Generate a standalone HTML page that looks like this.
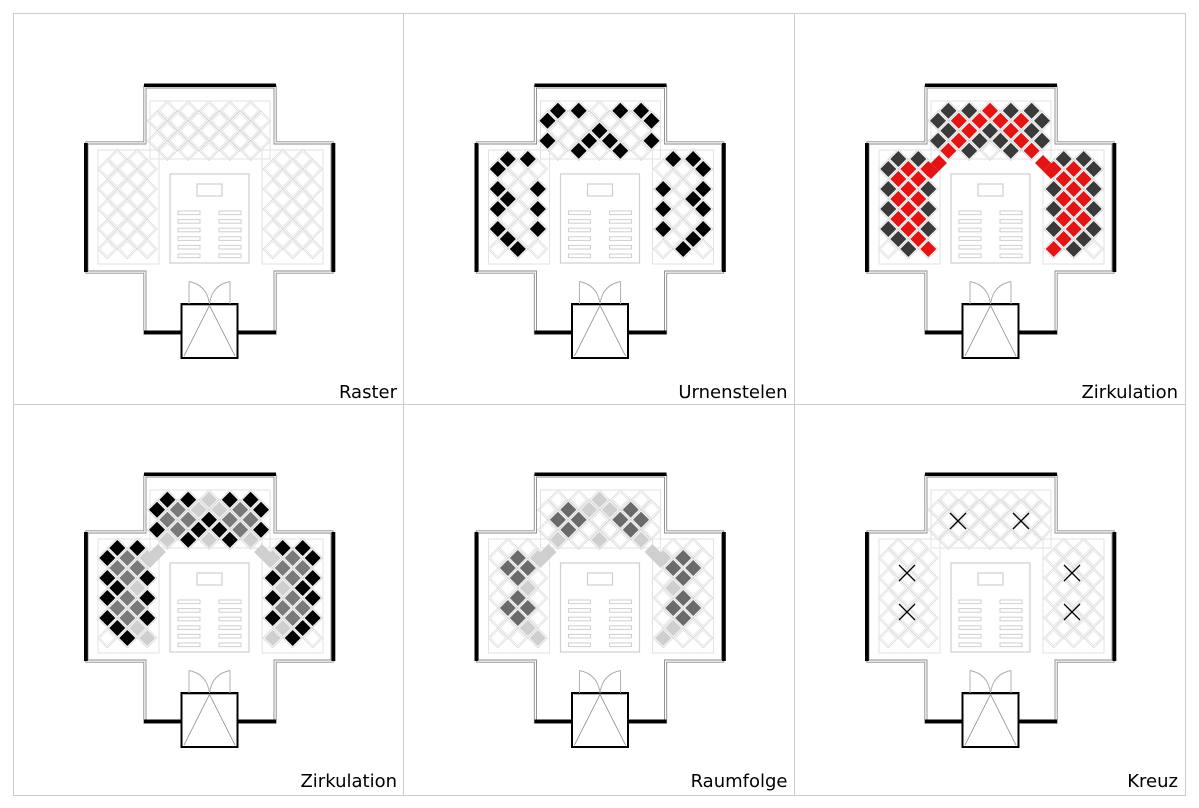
<!DOCTYPE html>
<html><head><meta charset="utf-8"><style>
html,body{margin:0;padding:0;background:#fff;}
svg{display:block;}
text{font-family:"DejaVu Sans","Liberation Sans",sans-serif;font-size:18px;fill:#000;}
</style></head><body>
<svg id="s" width="1199" height="808" viewBox="0 0 1199 808" xmlns="http://www.w3.org/2000/svg"></svg>
<script>
var S=document.getElementById('s');var out='';
out+='<rect x="0" y="0" width="1199" height="808" fill="#fff"/>';
var C={k:'#000',d:'#3a3a3a',r:'#e31414',g:'#7a7a7a',l:'#cfcfcf',m:'#6a6a6a'};
var P=[
 null,
 {top:[".k.k...k.k.","k.........k",".....k.....","k...k.k...k","...k...k..."],
  side:[".k.k.","k....",".....","k...k",".k...","k...k",".....","k...k",".k...","..k.."]},
 {top:[".d.d.r.d.d.","d.r.r.r.r.d",".d.r.d.r.d.","d.r.d.d.r.d",".r.d...d.r."],
  side:[".d.d.","d.r.r",".r.r.","d.r.d",".r.r.","d.r.d",".r.r.","d.r.d",".d.r.","..d.r"]},
 {top:[".k.k.l.k.k.","k.g.l.l.g.k",".g.g.k.g.g.","k.g.k.k.g.k",".l.k.l.k.l."],
  side:[".k.k.","k.g.l",".g.g.","k.g.k",".k.l.","k.g.k",".g.g.","k.g.k",".k.l.","..k.l"]},
 {top:[".....l.....","..m.l.l.m..",".m.m...m.m.","..m.....m..",".l...l...l."],
  side:[".....","..m.l",".m.m.","..m..","...l.","..m..",".m.m.","..m..","...l.","....l"]},
 null];
var labels=["Raster","Urnenstelen","Zirkulation","Zirkulation","Raumfolge","Kreuz"];
function dia(x,y,h,fill,stroke){return '<path d="M'+x.toFixed(1)+' '+(y-h).toFixed(1)+'L'+(x+h).toFixed(1)+' '+y.toFixed(1)+'L'+x.toFixed(1)+' '+(y+h).toFixed(1)+'L'+(x-h).toFixed(1)+' '+y.toFixed(1)+'Z" fill="'+fill+'"'+(stroke?' stroke="'+stroke+'" stroke-width="0.8"':'')+'/>';}
function pts(){var a=[];
 for(var j=0;j<5;j++)for(var i=0;i<11;i++)if((i+j)%2==1)a.push({x:157+10.4*i,y:110.7+10*j,t:'top',a:j,b:i});
 for(var r=0;r<10;r++)for(var c=0;c<5;c++)if((c+r)%2==1){a.push({x:107.3+10*c,y:159+10*r,t:'side',a:r,b:c});a.push({x:420-107.3-10*c,y:159+10*r,t:'side',a:r,b:c});}
 return a;}
var L=pts();
for(var p=0;p<6;p++){
 var dx=[0,390.5,781][p%3],dy=p<3?0:389;
 var g='<g transform="translate('+dx+','+dy+')">';
 L.forEach(function(q){g+=dia(q.x,q.y,9.8,'none','#d8d8d8');g+=dia(q.x,q.y,7.6,'none','#e2e2e2');});
 g+='<rect x="150" y="101" width="120" height="58" fill="none" stroke="#e2e2e2" stroke-width="1"/>';
 g+='<rect x="98" y="150" width="61" height="114" fill="none" stroke="#e2e2e2" stroke-width="1"/>';
 g+='<rect x="262" y="150" width="61" height="114" fill="none" stroke="#e2e2e2" stroke-width="1"/>';
 if(P[p]){L.forEach(function(q){var ch=P[p][q.t][q.a].charAt(q.b);if(ch!='.')g+=dia(q.x,q.y,8,C[ch]);});
  if(p==2){[[158,163],[150,171],[262,163],[270,171]].forEach(function(v){g+=dia(v[0],v[1],8,C.r);});}
  if(p==3||p==4){[[158,163],[150,171],[262,163],[270,171]].forEach(function(v){g+=dia(v[0],v[1],8,C.l);});}
 }
 if(p==5){[[177,132],[240,132],[126,184],[291,184],[126,223],[291,223]].forEach(function(v){g+='<path d="M'+(v[0]-8)+' '+(v[1]-8)+'L'+(v[0]+8)+' '+(v[1]+8)+'M'+(v[0]+8)+' '+(v[1]-8)+'L'+(v[0]-8)+' '+(v[1]+8)+'" stroke="#000" stroke-width="1.3"/>';});}
 var poly=function(o){return 'M'+(181)+' '+(332+o)+'L'+(146-o)+' '+(332+o)+'L'+(146-o)+' '+(271+o)+'L'+(88-o)+' '+(271+o)+'L'+(88-o)+' '+(144-o)+'L'+(146-o)+' '+(144-o)+'L'+(146-o)+' '+(88-o)+'L'+(274+o)+' '+(88-o)+'L'+(274+o)+' '+(144-o)+'L'+(331+o)+' '+(144-o)+'L'+(331+o)+' '+(271+o)+'L'+(274+o)+' '+(271+o)+'L'+(274+o)+' '+(332+o)+'L238 '+(332+o);};
 g+='<path d="'+poly(0)+'" fill="none" stroke="#8a8a8a" stroke-width="0.9"/>';
 g+='<path d="'+poly(2.2)+'" fill="none" stroke="#8a8a8a" stroke-width="0.9"/>';
 g+='<rect x="144" y="83.5" width="132" height="3.5" fill="#000"/>';
 g+='<rect x="84" y="143" width="3.8" height="129" fill="#000"/>';
 g+='<rect x="331.5" y="143" width="3.8" height="129" fill="#000"/>';
 g+='<rect x="144" y="330.5" width="38" height="3.8" fill="#000"/>';
 g+='<rect x="237" y="330.5" width="39" height="3.8" fill="#000"/>';
 g+='<rect x="181.5" y="304" width="56" height="54" fill="#fff" stroke="#000" stroke-width="2"/>';
 g+='<path d="M184 356L209.5 305.5L235 356" fill="none" stroke="#888" stroke-width="0.8"/>';
 g+='<line x1="183" y1="305.5" x2="236" y2="305.5" stroke="#999" stroke-width="0.8"/>';
 g+='<path d="M189 304L189 281.5M230 304L230 281.5M189 281.5Q207 285 209.5 304M230 281.5Q212 285 209.5 304" fill="none" stroke="#aaa" stroke-width="0.9"/>';
 g+='<rect x="170" y="174" width="79" height="89" fill="#fff" stroke="#cfcfcf" stroke-width="1.2"/>';
 g+='<rect x="197" y="184" width="25" height="12" fill="none" stroke="#cfcfcf" stroke-width="1.2"/>';
 for(var k=0;k<6;k++){var yy=211+k*8.6;g+='<rect x="178" y="'+yy+'" width="22" height="3.6" fill="none" stroke="#cfcfcf" stroke-width="1"/>';g+='<rect x="219" y="'+yy+'" width="22" height="3.6" fill="none" stroke="#cfcfcf" stroke-width="1"/>';}
 g+='</g>';
 out+=g;
 var rx=[397,787.5,1178][p%3];
 out+='<text x="'+rx+'" y="'+(398+dy)+'" text-anchor="end">'+labels[p]+'</text>';
}
out+='<g stroke="#cccccc" stroke-width="1" fill="none"><rect x="13.5" y="13.5" width="1172" height="782"/><line x1="403.5" y1="13" x2="403.5" y2="796"/><line x1="794.5" y1="13" x2="794.5" y2="796"/><line x1="13" y1="404.5" x2="1186" y2="404.5"/></g>';
S.innerHTML=out;
</script>
</body></html>
